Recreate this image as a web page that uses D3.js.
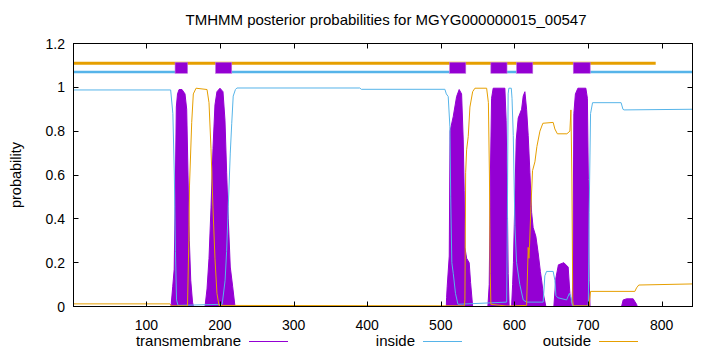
<!DOCTYPE html>
<html><head><meta charset="utf-8">
<script src="https://cdn.jsdelivr.net/npm/d3@7"></script>
<style>
body{margin:0;background:#fff;}
text{font-family:"Liberation Sans",Arial,sans-serif;fill:#000;}
</style></head>
<body><svg id="c" width="720" height="352"></svg>
<script>
const seqLength = 842;
const xTicks = [100,200,300,400,500,600,700,800];
const yTicks = [0,0.2,0.4,0.6,0.8,1,1.2];
const title = "TMHMM posterior probabilities for MGYG000000015_00547";
const seriesNames = ["transmembrane","inside","outside"];

// predicted topology (residue ranges)
const tmRegions = [[139,156],[194,216],[512,534],[568,590],[603,625],[680,703]];
const insideSegments = [[1,139],[216,512],[590,603],[703,842]];
const outsideSegments = [[1,792]];

// posterior probabilities: [residue, probability]
const tmProb = [
 [1,0],[133.5,0],[135.8,0.09],[137.8,0.17],[139,0.456],[140.7,0.91],[142.3,0.97],[144.4,0.99],[148.4,0.99],[152.5,0.97],[154.8,0.9],[156.6,0.6],[158.4,0.3],[160.3,0.12],[162.7,0.02],[164,0],
 [179.7,0],[182.4,0.08],[185.1,0.22],[187.8,0.45],[190.5,0.72],[193.2,0.92],[195.9,0.98],[200,0.996],[204.1,0.98],[206.8,0.85],[209.1,0.61],[211.3,0.4],[214,0.18],[217.3,0.09],[220.4,0],
 [507.5,0],[507.9,0.04],[508.7,0.09],[511.5,0.23],[512.6,0.8],[516.9,0.866],[521.5,0.958],[525,0.99],[528.3,0.97],[530.5,0.76],[531.8,0.53],[532.8,0.27],[535.1,0.22],[538.6,0.2],[540.5,0.11],[543.3,0],
 [564,0],[565.8,0.1],[567.4,0.6],[569,0.95],[571.2,0.996],[587.1,0.996],[588.8,0.85],[590.2,0.55],[591.6,0.15],[592.9,0],
 [596.2,0],[597.6,0.1],[598.7,0.2],[600.7,0.5],[602.5,0.76],[605.2,0.86],[609.8,0.9],[612,0.96],[614.3,0.98],[616.6,0.9],[618.8,0.78],[621.1,0.61],[623.4,0.43],[625.5,0.36],[629.2,0.32],[632.3,0.245],[635.3,0.16],[637,0.12],[639.2,0.06],[642.8,0],
 [653.6,0],[656.4,0.13],[659.8,0.19],[667.2,0.2],[673.1,0.18],[675.4,0.06],[677.4,0],
 [678.1,0],[679.5,0.12],[680.8,0.88],[682.9,0.97],[686.3,0.996],[697.1,0.996],[699.2,0.95],[700.5,0.58],[701.6,0.12],[702.8,0],
 [745.6,0],[747.8,0.03],[752.4,0.035],[761.4,0.035],[766,0.01],[767,0],[842,0]
];
const insideProb = [
 [1,0.988],[133,0.988],[136,0.88],[138,0.6],[139.5,0.25],[141,0.03],[143,0.005],[203,0.01],[207,0.12],[209,0.25],[211.3,0.456],[214,0.7],[216,0.836],[218,0.96],[221,0.99],[223,0.997],
 [390,0.997],[392,0.991],[505.6,0.991],[507.5,0.97],[510.1,0.958],[512.4,0.82],[513.5,0.5],[515,0.2],[517,0.15],[520,0.06],[523.3,0.01],
 [589.5,0.02],[590.5,0.4],[591.5,0.97],[592.5,0.996],[595.8,0.996],[596.8,0.95],[598.5,0.78],[600.7,0.37],[603,0.2],[607.4,0.1],[612,0.03],[616.6,0.02],
 [639.1,0.02],[641.4,0.14],[643.7,0.16],[652.7,0.16],[655,0.12],[656.4,0.05],[659,0.04],[671,0.03],[674.7,0.06],[677,0.04],[679.5,0.002],[700,0.002],[700.5,0.02],[701.6,0.43],[703.5,0.88],[706.2,0.93],
 [745,0.93],[747.5,0.9],[749,0.897],[842,0.9]
];
const outsideProb = [
 [1,0.012],[132,0.012],[134,0.003],[155.9,0.003],[157.7,0.3],[158.6,0.55],[161.6,0.84],[163.8,0.97],[167.5,0.996],[182.4,0.99],[185.1,0.93],[187.8,0.72],[190.5,0.45],[193.2,0.22],[195.9,0.06],[198.7,0.005],
 [532,0.003],[532.8,0.03],[533.8,0.61],[535.1,0.715],[537.3,0.775],[539.6,0.91],[543.3,0.98],[546.4,0.996],[562.3,0.996],[564.7,0.93],[566.1,0.6],[567.2,0.15],[568.1,0.01],[590,0.002],
 [616.6,0.005],[618.8,0.27],[619.7,0.22],[620.5,0.27],[622.5,0.456],[624.7,0.62],[627.9,0.66],[630.6,0.73],[634.7,0.8],[638.7,0.836],[652.7,0.84],[655,0.81],[658.4,0.788],[671.3,0.788],[675.4,0.8],[676.8,0.897],[678.1,0.6],[679.3,0.03],[680,0.003],
 [701.5,0.003],[703.5,0.069],[763.7,0.069],[766,0.085],[769,0.098],[842,0.103]
];
const topOutsideLevel = 1.11, topInsideLevel = 1.07, boxLow = 1.064, boxHigh = 1.114;

const colTM = "#9400d3", colIn = "#56b4e9", colOut = "#e69f00";
const L = 73.5, R = 692.5, T = 43.5, B = 306.5;

const svg = d3.select("#c");
const x = d3.scaleLinear().domain([1, seqLength]).range([L, R]);
const y = d3.scaleLinear().domain([0, 1.2]).range([B, T]);

svg.append("text").attr("x", 386).attr("y", 25).attr("text-anchor","middle")
  .style("font-size","15px").text(title);

svg.append("defs").append("clipPath").attr("id","pc")
  .append("rect").attr("x",L).attr("y",T).attr("width",R-L).attr("height",B-T);
const g = svg.append("g").attr("clip-path","url(#pc)");

// TM posterior as filled impulses
g.append("path").datum(tmProb)
  .attr("d", d3.area().x(d=>x(d[0])).y0(y(0)).y1(d=>y(d[1])))
  .attr("fill", colTM).attr("stroke", colTM).attr("stroke-width", 1);

const line = d3.line().x(d=>x(d[0])).y(d=>y(d[1]));
g.append("path").datum(insideProb).attr("d", line)
  .attr("fill","none").attr("stroke", colIn).attr("stroke-width", 1);
g.append("path").datum(outsideProb).attr("d", line)
  .attr("fill","none").attr("stroke", colOut).attr("stroke-width", 1);

// topology bars
g.selectAll(".ob").data(outsideSegments).join("line")
  .attr("x1", d=>x(d[0])).attr("x2", d=>x(d[1]))
  .attr("y1", y(topOutsideLevel)).attr("y2", y(topOutsideLevel))
  .attr("stroke", colOut).attr("stroke-width", 3);
g.selectAll(".ib").data(insideSegments).join("line")
  .attr("x1", d=>x(d[0])).attr("x2", d=>x(d[1]))
  .attr("y1", y(topInsideLevel)).attr("y2", y(topInsideLevel))
  .attr("stroke", colIn).attr("stroke-width", 2.5);
g.selectAll(".tb").data(tmRegions).join("rect")
  .attr("x", d=>x(d[0])).attr("width", d=>x(d[1])-x(d[0]))
  .attr("y", y(boxHigh)).attr("height", y(boxLow)-y(boxHigh))
  .attr("fill", colTM).attr("stroke","#c070e0").attr("stroke-width",0.6);

// axes with inward ticks
const ax = svg.append("g").attr("stroke","#000").attr("stroke-width",1);
xTicks.forEach(t=>{
  const px = Math.round(x(t))+0.5;
  ax.append("line").attr("x1",px).attr("x2",px).attr("y1",B).attr("y2",B-5);
  ax.append("line").attr("x1",px).attr("x2",px).attr("y1",T).attr("y2",T+5);
});
yTicks.forEach(t=>{
  const py = Math.round(y(t)-0.5)+0.5;
  ax.append("line").attr("x1",L).attr("x2",L+5).attr("y1",py).attr("y2",py);
  ax.append("line").attr("x1",R).attr("x2",R-5).attr("y1",py).attr("y2",py);
});
svg.append("rect").attr("x",L).attr("y",T).attr("width",R-L).attr("height",B-T)
  .attr("fill","none").attr("stroke","#000").attr("stroke-width",1);

svg.selectAll(".xl").data(xTicks).join("text")
  .attr("x", d=>x(d)).attr("y", 330).attr("text-anchor","middle")
  .style("font-size","14px").text(d=>d);
svg.selectAll(".yl").data(yTicks).join("text")
  .attr("x", 65).attr("y", d=>y(d)+5).attr("text-anchor","end")
  .style("font-size","14px").text(d=>d);
svg.append("text").attr("transform","translate(21,175) rotate(-90)")
  .attr("text-anchor","middle").style("font-size","14.5px").text("probability");

// legend
const legX = [241, 415, 591];
const legCol = [colTM, colIn, colOut];
seriesNames.forEach((n,i)=>{
  svg.append("text").attr("x", legX[i]).attr("y", 346).attr("text-anchor","end")
    .style("font-size","15px").text(n);
  svg.append("line").attr("x1", legX[i]+8).attr("x2", legX[i]+47)
    .attr("y1", 341.5).attr("y2", 341.5).attr("stroke", legCol[i]).attr("stroke-width",1);
});
</script></body></html>
